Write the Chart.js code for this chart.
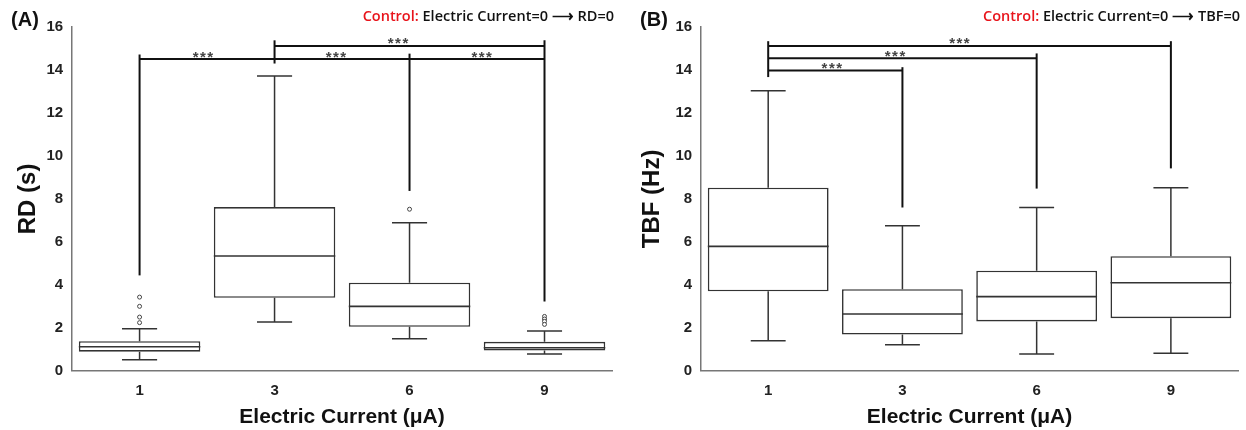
<!DOCTYPE html>
<html>
<head>
<meta charset="utf-8">
<script src="https://cdn.jsdelivr.net/npm/chart.js@4.4.1/dist/chart.umd.min.js"></script>
<style>
  html, body { margin: 0; padding: 0; background: #fff; }
  .panel { position: absolute; top: 0; height: 430px; }
  #pa { left: 0; width: 620px; }
  #pb { left: 620px; width: 626px; }
</style>
</head>
<body>
<div class="panel" id="pa"><canvas id="rd"></canvas></div>
<div class="panel" id="pb"><canvas id="tbf"></canvas></div>
<script>
// categorie asse x (corrente in µA)
const categories = ['1', '3', '6', '9'];

// (A) RD (s): statistiche dei box
const rdMin = [0.51, 2.27, 1.49, 0.78];
const rdQ1 = [0.89, 3.40, 2.05, 0.95];
const rdMed = [1.12, 5.34, 3.00, 1.07];
const rdQ3 = [1.38, 7.62, 4.10, 1.35];
const rdMax = [1.96, 13.72, 6.89, 1.85];
const rdOutliers = [[3.43, 3.00, 2.50, 2.24], [], [7.52], [2.53, 2.41, 2.30, 2.16]];
// parentesi di significatività: [da, a, y] e gambe [categoria, y alto, y basso]
const rdBars = [[0, 3, 14.51], [1, 3, 15.12]];
const rdLegs = [[0, 14.72, 4.44], [1, 15.38, 14.30], [2, 14.76, 8.37], [3, 15.38, 3.23]];
const rdStars = [[0.475, 14.51], [1.46, 14.51], [2.54, 14.51], [1.92, 15.12]];

// (B) TBF (Hz)
const tbfMin = [1.40, 1.21, 0.78, 0.82];
const tbfQ1 = [3.70, 1.69, 2.30, 2.45];
const tbfMed = [5.79, 2.64, 3.45, 4.10];
const tbfQ3 = [8.52, 3.80, 4.66, 5.33];
const tbfMax = [13.03, 6.75, 7.60, 8.52];
const tbfOutliers = [[], [], [], []];
const tbfBars = [[0, 3, 15.12], [0, 2, 14.55], [0, 1, 13.97]];
const tbfLegs = [[0, 15.34, 13.67], [1, 14.13, 7.60], [2, 14.77, 8.48], [3, 15.34, 9.42]];
const tbfStars = [[1.43, 15.12], [0.95, 14.55], [0.48, 13.97]];

const yTicks = [0, 2, 4, 6, 8, 10, 12, 14, 16];

const INK = '#333';
const SANS = "'Liberation Sans', Arial, sans-serif";
const TICK_FONT = { family: SANS, size: 15, weight: 'bold' };

// disegna baffi, mediane, parentesi e testi usando le scale del grafico
function boxParts(p) {
  return {
    id: 'boxParts',
    beforeDatasetsDraw(chart) {
      const { ctx, scales: { x, y } } = chart;
      const cap = x.width / categories.length * 0.13;
      ctx.save();
      ctx.strokeStyle = INK; ctx.lineWidth = 1.5;
      categories.forEach((c, i) => {
        const cx = x.getPixelForValue(i);
        ctx.beginPath();
        ctx.moveTo(cx, y.getPixelForValue(p.q3[i])); ctx.lineTo(cx, y.getPixelForValue(p.max[i]));
        ctx.moveTo(cx - cap, y.getPixelForValue(p.max[i])); ctx.lineTo(cx + cap, y.getPixelForValue(p.max[i]));
        ctx.moveTo(cx, y.getPixelForValue(p.q1[i])); ctx.lineTo(cx, y.getPixelForValue(p.min[i]));
        ctx.moveTo(cx - cap, y.getPixelForValue(p.min[i])); ctx.lineTo(cx + cap, y.getPixelForValue(p.min[i]));
        ctx.stroke();
      });
      ctx.restore();
    },
    afterDatasetsDraw(chart) {
      const { ctx, scales: { x, y }, chartArea } = chart;
      const meta = chart.getDatasetMeta(0);
      ctx.save();
      // mediane
      ctx.strokeStyle = INK; ctx.lineWidth = 1.6;
      meta.data.forEach((bar, i) => {
        const { x: bx, width } = bar.getProps(['x', 'width'], true);
        const my = y.getPixelForValue(p.med[i]);
        ctx.beginPath(); ctx.moveTo(bx - width / 2, my); ctx.lineTo(bx + width / 2, my); ctx.stroke();
      });
      // parentesi
      ctx.strokeStyle = '#111'; ctx.lineWidth = 2;
      p.bars.forEach(([a, b, v]) => {
        const py = y.getPixelForValue(v);
        ctx.beginPath(); ctx.moveTo(x.getPixelForValue(a), py); ctx.lineTo(x.getPixelForValue(b), py); ctx.stroke();
      });
      p.legs.forEach(([i, t, bt]) => {
        const px = x.getPixelForValue(i);
        ctx.beginPath(); ctx.moveTo(px, y.getPixelForValue(t)); ctx.lineTo(px, y.getPixelForValue(bt)); ctx.stroke();
      });
      ctx.fillStyle = '#444';
      ctx.font = 'bold 15px ' + SANS;
      ctx.letterSpacing = '1.5px';
      ctx.textAlign = 'center'; ctx.textBaseline = 'alphabetic';
      p.stars.forEach(([i, v]) => ctx.fillText('***', x.getPixelForValue(i), y.getPixelForValue(v) + 2.5));
      ctx.letterSpacing = '0px';
      // etichetta pannello
      ctx.fillStyle = '#111';
      ctx.font = 'bold 20px ' + SANS;
      ctx.textAlign = 'center'; ctx.textBaseline = 'middle';
      ctx.fillText(p.tag, p.tagX, 20);
      // nota controllo
      ctx.font = "600 14.5px 'Open Sans', sans-serif";
      ctx.textAlign = 'right';
      ctx.fillStyle = '#111';
      const rest = 'Electric Current=0 \u27F6 ' + p.ctrl;
      ctx.fillText(rest, chartArea.right + 2, 17);
      const w = ctx.measureText(rest).width;
      ctx.fillStyle = '#e8141b';
      ctx.fillText('Control: ', chartArea.right + 2 - w, 17);
      ctx.restore();
    }
  };
}

function makeChart(id, p, yTitle, pad, yTitlePad) {
  const outData = [];
  p.out.forEach((vals, i) => vals.forEach((v) => outData.push({ x: categories[i], y: v })));
  return new Chart(document.getElementById(id), {
    type: 'bar',
    data: {
      labels: categories,
      datasets: [
        { data: categories.map((c, i) => [p.q1[i], p.q3[i]]), backgroundColor: '#fff', borderColor: INK, borderWidth: 1.6, borderSkipped: false, barPercentage: 0.9, categoryPercentage: 1 },
        { type: 'line', data: outData, showLine: false, pointRadius: 2, pointBorderWidth: 1, pointBorderColor: '#444', pointBackgroundColor: '#fff' },
      ],
    },
    options: {
      responsive: true, maintainAspectRatio: false, animation: false,
      layout: { padding: pad },
      plugins: { legend: { display: false }, tooltip: { enabled: false } },
      scales: {
        x: {
          grid: { display: false, drawTicks: false },
          border: { display: true, color: '#777', width: 1.5 },
          ticks: { color: '#222', font: TICK_FONT, padding: 11 },
          title: { display: true, text: 'Electric Current (\u03BCA)', color: '#111', font: { family: SANS, size: 21, weight: 'bold' }, padding: { top: -6, bottom: 0 } },
        },
        y: {
          min: 0, max: 16,
          grid: { display: false, drawTicks: false },
          border: { display: true, color: '#777', width: 1.5 },
          afterBuildTicks: (s) => { s.ticks = yTicks.map((v) => ({ value: v })); },
          ticks: { color: '#222', font: TICK_FONT, padding: 9 },
          title: { display: true, text: yTitle, color: '#111', font: { family: SANS, size: 24, weight: 'bold' }, padding: yTitlePad },
        },
      },
    },
    plugins: [boxParts(p)],
  });
}

makeChart('rd', { min: rdMin, q1: rdQ1, med: rdMed, q3: rdQ3, max: rdMax, out: rdOutliers, bars: rdBars, legs: rdLegs, stars: rdStars, tag: '(A)', tagX: 25, ctrl: 'RD=0' },
  'RD (s)', { left: 8, right: 8, top: 27, bottom: 0 }, { top: 5.6, bottom: -5 });
makeChart('tbf', { min: tbfMin, q1: tbfQ1, med: tbfMed, q3: tbfQ3, max: tbfMax, out: tbfOutliers, bars: tbfBars, legs: tbfLegs, stars: tbfStars, tag: '(B)', tagX: 34, ctrl: 'TBF=0' },
  'TBF (Hz)', { left: 12, right: 8, top: 27, bottom: 0 }, { top: 5.6, bottom: 0 });
</script>
</body>
</html>
